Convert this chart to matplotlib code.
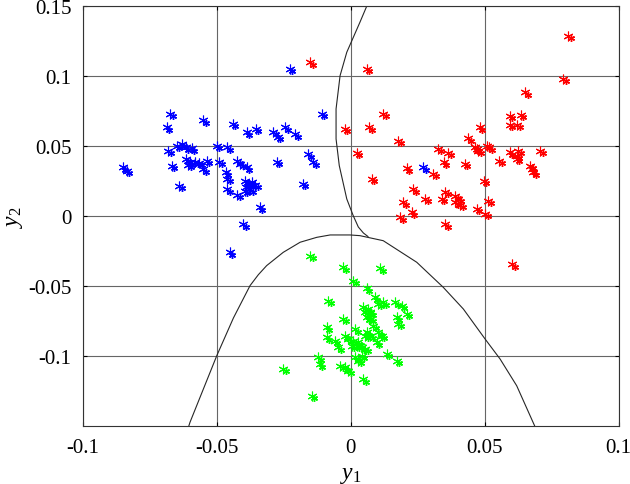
import numpy as np
import matplotlib
matplotlib.use("Agg")
import matplotlib.pyplot as plt
import matplotlib.transforms as mtransforms

plt.rcParams['font.family'] = ['Liberation Serif', 'DejaVu Serif']
plt.rcParams['mathtext.fontset'] = 'custom'
plt.rcParams['mathtext.rm'] = 'Liberation Serif'
plt.rcParams['mathtext.it'] = 'Liberation Serif:italic'
plt.rcParams['axes.unicode_minus'] = False

# class 1 (blue)
blue_x = [-0.0850, -0.0835, -0.0672, -0.0686, -0.0550, -0.0440, -0.0387, -0.0353, -0.0289, -0.0271,
          -0.0244, -0.0207, -0.0681, -0.0649, -0.0630, -0.0614, -0.0593, -0.0499, -0.0460, -0.0157,
          -0.0139, -0.0667, -0.0614, -0.0599, -0.0580, -0.0606, -0.0565, -0.0537, -0.0549, -0.0490,
          -0.0422, -0.0412, -0.0387, -0.0275, -0.0465, -0.0460, -0.0639, -0.0460, -0.0422, -0.0394,
          -0.0382, -0.0368, -0.0390, -0.0375, -0.0356, -0.0394, -0.0178, -0.0338, -0.0400, -0.0226,
          -0.0107, 0.0272, -0.0450]
blue_y = [0.0351, 0.0327, 0.0732, 0.0637, 0.0689, 0.0661, 0.0601, 0.0625, 0.0606, 0.0568,
          0.0639, 0.0589, 0.0470, 0.0506, 0.0518, 0.0496, 0.0487, 0.0506, 0.0494, 0.0446,
          0.0387, 0.0363, 0.0411, 0.0387, 0.0391, 0.0368, 0.0382, 0.0399, 0.0339, 0.0391,
          0.0399, 0.0375, 0.0351, 0.0391, 0.0316, 0.0268, 0.0220, 0.0196, 0.0154, 0.0254,
          0.0232, 0.0246, 0.0211, 0.0196, 0.0225, 0.0182, 0.0232, 0.0066, -0.0054, 0.1054,
          0.0732, 0.0351, -0.0254]

# class 2 (red)
red_x = [-0.0151, -0.0021, 0.0023, 0.0060, 0.0122, 0.0070, 0.0178, 0.0328, 0.0365, 0.0347,
         0.0210, 0.0309, 0.0427, 0.0079, 0.0234, 0.0353, 0.0390, 0.0401, 0.0390, 0.0409,
         0.0340, 0.0278, 0.0197, 0.0228, 0.0185, 0.0353, 0.0471, 0.0502, 0.0514, 0.0498,
         0.0440, 0.0483, 0.0471, 0.0476, 0.0508, 0.0517, 0.0555, 0.0595, 0.0635, 0.0595,
         0.0622, 0.0651, 0.0794, 0.0813, 0.0595, 0.0626, 0.0620, 0.0707, 0.0670, 0.0676,
         0.0682, 0.0604, 0.0620, 0.0464]
red_y = [0.1101, 0.0625, 0.0454, 0.1054, 0.0732, 0.0637, 0.0541, 0.0482, 0.0454, 0.0387,
         0.0344, 0.0304, 0.0375, 0.0268, 0.0196, 0.0177, 0.0149, 0.0125, 0.0101, 0.0082,
         0.0125, 0.0125, 0.0101, 0.0030, -0.0006, -0.0054, 0.0054, 0.0018, 0.0113, 0.0256,
         0.0559, 0.0637, 0.0482, 0.0468, 0.0506, 0.0496, 0.0399, 0.0720, 0.0725, 0.0654,
         0.0654, 0.0887, 0.0982, 0.1291, 0.0459, 0.0470, 0.0411, 0.0470, 0.0363, 0.0339,
         0.0316, -0.0343, 0.0435, 0.0494]

# class 3 (green)
green_x = [-0.0151, -0.0027, 0.0110, 0.0010, 0.0060, -0.0083, 0.0091, 0.0104, 0.0122, 0.0166,
           0.0191, 0.0048, 0.0066, 0.0054, 0.0060, 0.0073, 0.0210, 0.0172, 0.0178, -0.0027,
           -0.0089, 0.0017, 0.0060, 0.0073, 0.0054, 0.0104, 0.0116, -0.0089, -0.0058, -0.0046,
           -0.0021, -0.0008, 0.0010, 0.0029, 0.0042, 0.0023, 0.0054, 0.0004, 0.0017, 0.0029,
           0.0042, -0.0120, -0.0114, 0.0135, 0.0172, -0.0039, -0.0021, -0.0008, -0.0251, 0.0048,
           -0.0145, 0.0073, 0.0085, 0.0098]
green_y = [-0.0280, -0.0363, -0.0370, -0.0459, -0.0513, -0.0601, -0.0577, -0.0625, -0.0613, -0.0613,
           -0.0637, -0.0649, -0.0661, -0.0684, -0.0720, -0.0732, -0.0696, -0.0720, -0.0768, -0.0732,
           -0.0792, -0.0804, -0.0827, -0.0851, -0.0851, -0.0827, -0.0851, -0.0863, -0.0887, -0.0934,
           -0.0851, -0.0875, -0.0887, -0.0899, -0.0934, -0.0923, -0.0946, -0.0923, -0.1006, -0.1030,
           -0.0994, -0.1006, -0.1054, -0.0982, -0.1030, -0.1066, -0.1077, -0.1101, -0.1089, -0.1161,
           -0.1280, -0.0684, -0.0780, -0.0899]

# decision boundary between class 1 and 2
bnd12_x = [0.0060, 0.0035, -0.0014, -0.0039, -0.0054, -0.0054, -0.0042, -0.0014, 0.0010, 0.0029, 0.0048, 0.0065]
bnd12_y = [0.1500, 0.1387, 0.1173, 0.1006, 0.0768, 0.0554, 0.0363, 0.0125, 0.0006, -0.0075, -0.0118, -0.0143]

# decision boundary around class 3
bnd3_x = [-0.0604, -0.0599, -0.0549, -0.0499, -0.0437, -0.0375, -0.0344, -0.0313, -0.0251, -0.0188,
          -0.0126, -0.0076, -0.0002, 0.0035, 0.0122, 0.0247, 0.0346, 0.0421, 0.0502, 0.0558,
          0.0620, 0.0688]
bnd3_y = [-0.1500, -0.1470, -0.1232, -0.0994, -0.0725, -0.0494, -0.0416, -0.0351, -0.0256, -0.0184,
          -0.0149, -0.0132, -0.0132, -0.0137, -0.0173, -0.0327, -0.0506, -0.0661, -0.0875, -0.1018,
          -0.1209, -0.1500]

xticks = [-0.1, -0.05, 0, 0.05, 0.1]
yticks = [-0.1, -0.05, 0, 0.05, 0.1, 0.15]

fig = plt.figure(figsize=(6.3, 4.85), dpi=100)
ax = fig.add_axes([0.131, 0.1186, 0.8508, 0.866])

star = (6, 2, 0)
shadow = mtransforms.offset_copy(ax.transData, fig=fig, x=2.5, y=-2.5, units='dots')
for xs, ys, c in [(blue_x, blue_y, (0, 0, 1)), (red_x, red_y, (1, 0, 0)), (green_x, green_y, (0, 1, 0))]:
    ax.plot(xs, ys, linestyle='none', marker=star, markersize=5, mec=c, mew=1.0, transform=shadow)
    ax.plot(xs, ys, linestyle='none', marker=star, markersize=7, mec=c, mew=0.8)

ax.plot(bnd12_x, bnd12_y, color='0.15', lw=0.8)
ax.plot(bnd3_x, bnd3_y, color='0.15', lw=0.8)

ax.set_xlim(-0.1, 0.1)
ax.set_ylim(-0.15, 0.15)
ax.set_xticks(xticks)
ax.set_yticks(yticks)
ax.set_xticklabels(['%g' % v for v in xticks])
ax.set_yticklabels(['%g' % v for v in yticks])
ax.tick_params(direction='in', length=3, width=0.8, top=True, right=True, labelsize=15, pad=8)
ax.grid(True, color='0.4', lw=0.8, ls='-')
ax.set_axisbelow(True)
for s in ax.spines.values():
    s.set_linewidth(0.8)
    s.set_color('0.2')

ax.set_xlabel(r'$\mathit{y}_\mathit{1}$', fontsize=17, labelpad=5)
ax.set_ylabel(r'$\mathit{y}_\mathit{2}$', fontsize=17, labelpad=2)

fig.savefig('out.png', dpi=100)
